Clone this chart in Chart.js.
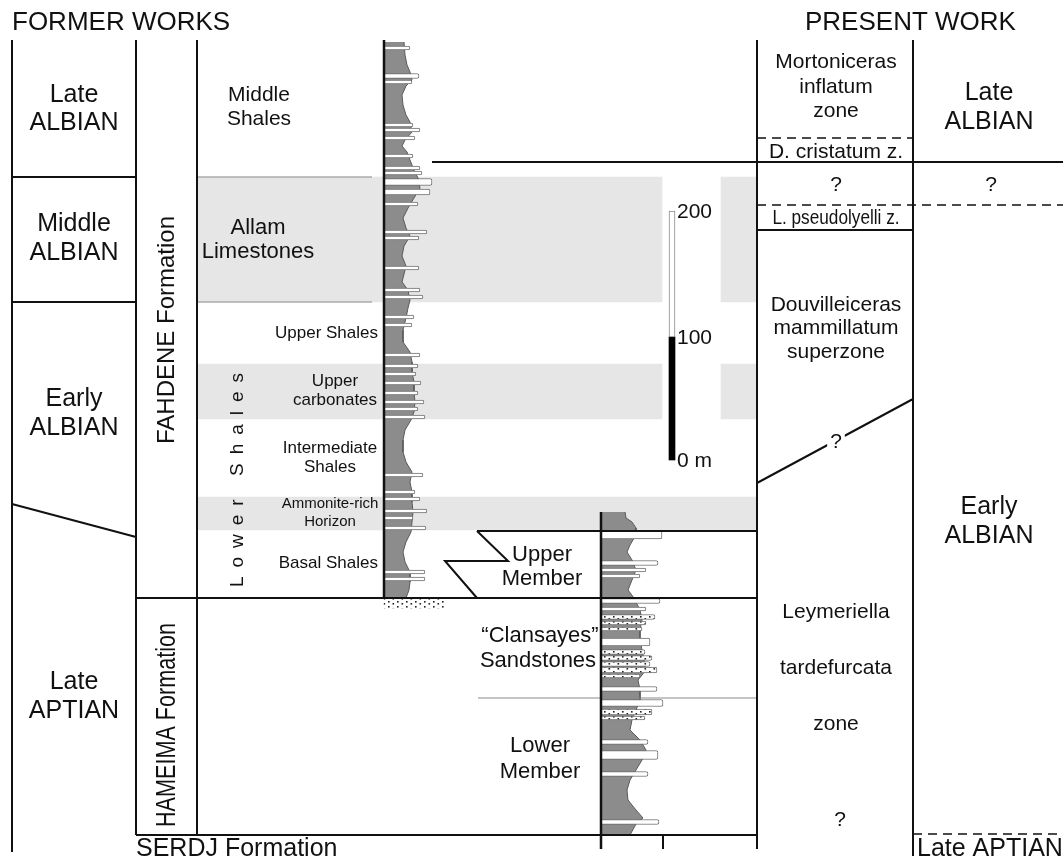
<!DOCTYPE html>
<html lang="en">
<head>
  <meta charset="UTF-8" />
  <title>Fahdene / Hameima stratigraphy</title>
  <style>
    html, body {
      margin: 0;
      padding: 0;
      background: #fff;
    }
    #wrap {
      width: 1063px;
      height: 861px;
    }
  </style>
</head>
<body>
  <div id="wrap"><canvas id="strat"></canvas></div>

  <script src="https://cdn.jsdelivr.net/npm/chart.js"></script>

  <script>
    // Diagram units: x runs 0-1063 across the sheet, y 0-861 down the section.

    // Fahdene log: shale outline and limestone beds [level, extent, thickness]
    const fahdeneAxis = 384;
    const fahdeneDepth = [42, 55, 65, 72, 80, 86, 95, 105, 115, 122, 132, 140, 146, 152, 160, 170, 178, 188, 198, 208,
      218, 228, 236, 246, 256, 266, 274, 282, 290, 300, 308, 318, 330, 342, 352, 362, 372, 382, 392, 402,
      412, 420, 430, 440, 452, 462, 472, 482, 492, 502, 512, 522, 532, 542, 552, 562, 572, 582, 590, 598];
    const fahdeneShale = [404, 405, 407, 410, 412, 406, 402, 403, 406, 410, 412, 405, 402, 407, 410, 414, 418, 420, 414, 408,
      403, 406, 410, 404, 402, 406, 404, 402, 408, 410, 408, 406, 403, 403, 410, 412, 412, 414, 414, 415,
      414, 411, 405, 403, 403, 406, 412, 410, 412, 412, 413, 412, 411, 406, 403, 405, 410, 410, 409, 406];
    const fahdeneBeds = [[48, 410, 4], [76, 419, 5], [82, 412, 4], [125, 413, 4], [130, 420, 4], [138, 415, 4],
      [156, 413, 4], [168, 420, 4], [173, 422, 4], [182, 432, 7], [192, 430, 6], [204, 418, 4], [232, 427, 4],
      [238, 419, 4], [268, 419, 4], [290, 420, 4], [297, 423, 4], [317, 414, 4], [325, 412, 4], [355, 420, 4],
      [366, 418, 4], [374, 416, 4], [383, 421, 4], [393, 418, 4], [402, 424, 4], [409, 418, 4], [417, 425, 4],
      [475, 423, 4], [492, 415, 4], [499, 420, 4], [511, 427, 4], [518, 413, 4], [528, 426, 4], [572, 425, 4],
      [579, 425, 4]];
    const fahdeneBaseSand = [[603, 445, 10]];

    // Hameima log
    const hameimaAxis = 601;
    const hameimaDepth = [512, 518, 522, 528, 535, 545, 552, 560, 570, 580, 590, 598, 610, 620, 630, 640, 650, 660, 670, 680,
      690, 700, 710, 720, 730, 740, 750, 760, 770, 780, 790, 800, 810, 818, 824, 835];
    const hameimaShale = [625, 626, 632, 636, 636, 630, 627, 632, 636, 632, 628, 634, 640, 642, 640, 640, 642, 644, 646, 638,
      640, 640, 636, 632, 630, 640, 646, 642, 636, 630, 627, 628, 636, 643, 636, 630];
    const hameimaBeds = [[535, 662, 8], [563, 658, 5], [570, 646, 4], [576, 640, 4], [601, 660, 5], [609, 646, 4],
      [642, 650, 8], [689, 657, 5], [703, 663, 7], [742, 648, 5], [755, 658, 9], [774, 648, 5], [822, 659, 5]];
    const hameimaSands = [[617, 655, 5], [623, 646, 4], [629, 642, 4], [652, 645, 5], [658, 652, 5], [664, 650, 5],
      [670, 657, 6], [676, 640, 4], [712, 652, 6], [718, 645, 4]];

    // carbonate-rich intervals [top, base] and their horizontal spans
    const bandLevels = [[177, 302], [364, 419], [497, 530]];
    const bandSpans = [[[197, 662], [721, 757]], [[197, 662], [721, 757]], [[197, 757]]];

    // boundaries [x1, y1, x2, y2]
    const frameLines = [
      [12, 40, 12, 852], [136, 40, 136, 835], [197, 40, 197, 835], [757, 40, 757, 849], [913, 40, 913, 856],
      [12, 177, 136, 177], [12, 302, 136, 302], [12, 504, 136, 537],
      [432, 162, 1063, 162], [757, 230, 913, 230], [757, 483, 913, 399],
      [136, 598, 757, 598], [477, 531, 757, 531], [136, 835, 757, 835],
      [663, 835, 663, 849]
    ];
    const tongueLine = [[477, 531], [508, 561], [445, 561], [477, 598]];
    const dashedLines = [[757, 138, 913, 138], [757, 205, 1063, 205], [913, 834, 1063, 834]];
    const greyLines = [[198, 177, 372, 177], [198, 302, 372, 302], [478, 698, 757, 698]];
    const logAxes = [[fahdeneAxis, 40, fahdeneAxis, 598], [hameimaAxis, 512, hameimaAxis, 849]];

    // scale bar
    const scaleBarX = 672;
    const scaleBarMetres = [0, 100, 200];
    const scaleBarLevels = [460, 337, 211];

    // texts [text, x, y, size, options]
    const headerLabels = [
      ['FORMER WORKS', 12, 23, 26, {align: 'left'}],
      ['PRESENT WORK', 805, 23, 26, {align: 'left'}]
    ];
    const ageLabels = [
      ['Late', 74, 95, 25], ['ALBIAN', 74, 123, 25],
      ['Middle', 74, 224, 25], ['ALBIAN', 74, 253, 25],
      ['Early', 74, 399, 25], ['ALBIAN', 74, 428, 25],
      ['Late', 74, 682, 25], ['APTIAN', 74, 711, 25],
      ['Late', 989, 93, 25], ['ALBIAN', 989, 122, 25],
      ['?', 991, 185, 21],
      ['Early', 989, 507, 25], ['ALBIAN', 989, 536, 25],
      ['Late APTIAN', 917, 849, 25, {align: 'left'}]
    ];
    const unitLabels = [
      ['FAHDENE Formation', 167, 330, 24, {rot: -90}],
      ['HAMEIMA Formation', 168, 725, 27, {rot: -90, sx: 0.8}],
      ['Lower Shales', 238, 480, 19, {rot: -90, gap: 9}],
      ['Middle', 259, 95, 21], ['Shales', 259, 119, 21],
      ['Allam', 258, 228, 22], ['Limestones', 258, 252, 22],
      ['Upper Shales', 378, 333, 17, {align: 'right'}],
      ['Upper', 335, 381, 17], ['carbonates', 335, 400, 17],
      ['Intermediate', 330, 448, 17], ['Shales', 330, 467, 17],
      ['Ammonite-rich', 330, 504, 15], ['Horizon', 330, 522, 15],
      ['Basal Shales', 378, 563, 17, {align: 'right'}],
      ['Upper', 542, 555, 22], ['Member', 542, 579, 22],
      ['\u201CClansayes\u201D', 540, 636, 22], ['Sandstones', 538, 661, 22],
      ['Lower', 540, 746, 22], ['Member', 540, 772, 22],
      ['SERDJ Formation', 136, 849, 25, {align: 'left'}]
    ];
    const zoneLabels = [
      ['Mortoniceras', 836, 62, 21], ['inflatum', 836, 87, 21], ['zone', 836, 111, 21],
      ['D. cristatum z.', 836, 152, 21],
      ['?', 836, 185, 21],
      ['L. pseudolyelli z.', 836, 218, 20, {sx: 0.86}],
      ['Douvilleiceras', 836, 305, 21], ['mammillatum', 836, 328, 21], ['superzone', 836, 352, 21],
      ['?', 836, 442, 21, {bg: true}],
      ['Leymeriella', 836, 612, 21], ['tardefurcata', 836, 668, 21], ['zone', 836, 724, 21],
      ['?', 840, 820, 21]
    ];
    const scaleLabels = scaleBarMetres.map((m, i) =>
      [m === 0 ? m + ' m' : String(m), scaleBarX + 5, scaleBarLevels[i] + 1, 21, {align: 'left'}]);

    const FONT = '"Liberation Sans", Arial, Helvetica, sans-serif';

    // dotted sandstone fill
    function stipple() {
      const c = document.createElement('canvas');
      c.width = 9;
      c.height = 5;
      const g = c.getContext('2d');
      g.fillStyle = '#fff';
      g.fillRect(0, 0, 9, 5);
      g.fillStyle = '#222';
      g.fillRect(1, 1, 1.6, 1.6);
      g.fillRect(5.5, 3, 1.6, 1.6);
      return g.createPattern(c, 'repeat');
    }
    const sandFill = stipple();

    function segs(list) {
      const pts = [];
      list.forEach(([x1, y1, x2, y2]) => {
        pts.push({x: x1, y: y1}, {x: x2, y: y2}, {x: null, y: null});
      });
      return pts;
    }

    function lineSet(data, color, width, extra) {
      return Object.assign({
        type: 'line', data, borderColor: color, borderWidth: width,
        pointRadius: 0, fill: false, tension: 0, order: 3
      }, extra || {});
    }

    function profileSet(depth, shale, axisX) {
      return {
        type: 'line', indexAxis: 'y',
        data: depth.map((d, i) => ({x: shale[i], y: d})),
        borderColor: '#5a5a5a', borderWidth: 1, backgroundColor: '#8c8c8c',
        fill: {value: axisX}, pointRadius: 0, tension: 0, order: 8
      };
    }

    function bedSets(beds, axisX, fillColor, border) {
      const byThick = {};
      beds.forEach(([yc, right, t]) => {
        (byThick[t] = byThick[t] || []).push({y: yc, x: [axisX, right]});
      });
      return Object.entries(byThick).map(([t, data]) => ({
        type: 'bar', indexAxis: 'y', data, barThickness: +t, grouped: false,
        backgroundColor: fillColor, borderColor: '#6e6e6e', borderWidth: border,
        borderSkipped: 'start', borderRadius: 2, order: 6
      }));
    }

    const datasets = [];

    // light grey carbonate bands
    bandLevels.forEach(([top, base], i) => {
      datasets.push({
        type: 'bar', indexAxis: 'y', grouped: false,
        data: bandSpans[i].map(s => ({y: (top + base) / 2, x: s})),
        barThickness: base - top, backgroundColor: '#e6e6e6', borderWidth: 0, order: 20
      });
    });

    datasets.push(profileSet(fahdeneDepth, fahdeneShale, fahdeneAxis));
    datasets.push(profileSet(hameimaDepth, hameimaShale, hameimaAxis));
    datasets.push(...bedSets(fahdeneBeds, fahdeneAxis, '#fff', 1));
    datasets.push(...bedSets(hameimaBeds, hameimaAxis, '#fff', 1));
    datasets.push(...bedSets(hameimaSands, hameimaAxis, sandFill, 1));
    datasets.push(...bedSets(fahdeneBaseSand, fahdeneAxis, sandFill, 0));

    datasets.push(lineSet(segs(greyLines), '#8a8a8a', 1.2, {order: 4}));
    datasets.push(lineSet(segs(frameLines), '#111', 2));
    datasets.push(lineSet(tongueLine.map(([x, y]) => ({x, y})), '#111', 2));
    datasets.push(lineSet(segs(dashedLines), '#111', 1.6, {borderDash: [9, 6]}));
    datasets.push(lineSet(segs(logAxes), '#111', 2.5, {order: 2}));

    // scale bar: open upper half, solid lower half
    datasets.push({
      type: 'bar', indexAxis: 'x', grouped: false,
      data: [{x: scaleBarX, y: [scaleBarLevels[2], scaleBarLevels[1]]}],
      barThickness: 6, backgroundColor: '#fff', borderColor: '#888', borderWidth: 1,
      borderSkipped: false, order: 1
    });
    datasets.push({
      type: 'bar', indexAxis: 'x', grouped: false,
      data: [{x: scaleBarX, y: [scaleBarLevels[1], scaleBarLevels[0]]}],
      barThickness: 6, backgroundColor: '#000', borderWidth: 0, order: 1
    });

    function drawLabel(ctx, xs, ys, [text, vx, vy, size, o = {}]) {
      ctx.save();
      ctx.translate(xs.getPixelForValue(vx), ys.getPixelForValue(vy));
      if (o.rot) ctx.rotate(o.rot * Math.PI / 180);
      ctx.scale(o.sx || 1, 1);
      ctx.font = size + 'px ' + FONT;
      ctx.textBaseline = 'middle';
      ctx.textAlign = 'left';
      const gap = o.gap || 0;
      const chars = [...text];
      const w = gap
        ? chars.reduce((s, c) => s + ctx.measureText(c).width, 0) + gap * (chars.length - 1)
        : ctx.measureText(text).width;
      const align = o.align || 'center';
      let left = align === 'left' ? 0 : align === 'right' ? -w : -w / 2;
      if (o.bg) {
        ctx.fillStyle = '#fff';
        ctx.fillRect(left - 3, -size * 0.55, w + 6, size * 1.1);
      }
      ctx.fillStyle = '#111';
      if (gap) {
        chars.forEach(c => {
          ctx.fillText(c, left, 0);
          left += ctx.measureText(c).width + gap;
        });
      } else {
        ctx.fillText(text, left, 0);
      }
      ctx.restore();
    }

    const sectionText = {
      id: 'sectionText',
      afterDatasetsDraw(chart) {
        const {ctx, scales} = chart;
        [headerLabels, ageLabels, unitLabels, zoneLabels, scaleLabels].forEach(group =>
          group.forEach(l => drawLabel(ctx, scales.x, scales.y, l)));
      }
    };

    new Chart(document.getElementById('strat'), {
      type: 'line',
      data: {datasets},
      options: {
        responsive: true,
        maintainAspectRatio: false,
        animation: false,
        events: [],
        layout: {padding: 0},
        scales: {
          x: {type: 'linear', min: 0, max: 1063, offset: false, display: false},
          y: {type: 'linear', min: 0, max: 861, reverse: true, offset: false, display: false}
        },
        plugins: {
          legend: {display: false},
          tooltip: {enabled: false}
        }
      },
      plugins: [sectionText]
    });
  </script>
</body>
</html>
